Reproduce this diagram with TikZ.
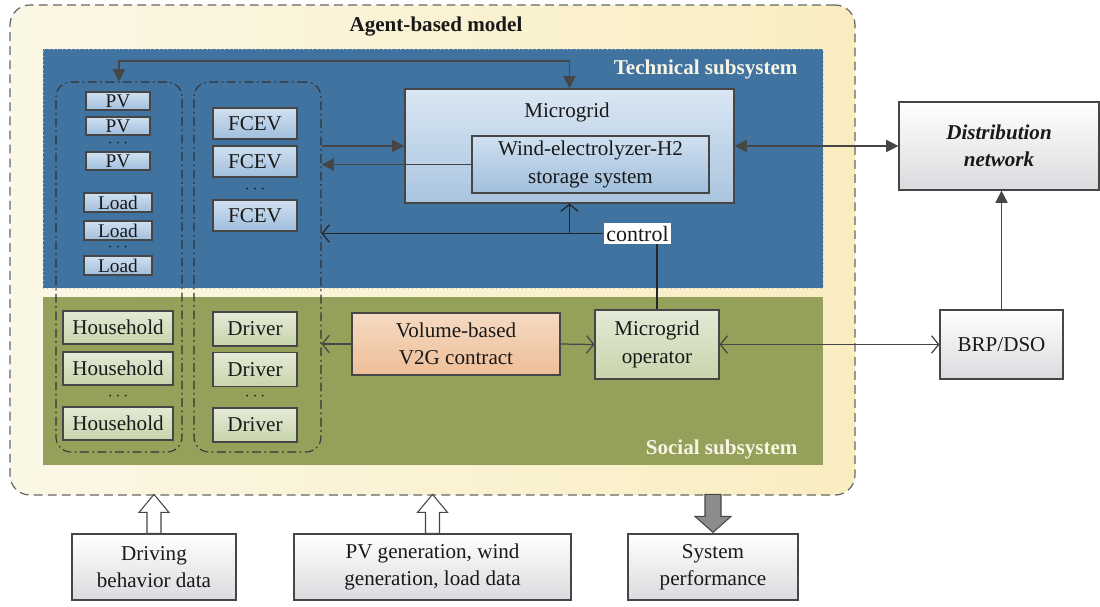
\documentclass[tikz,border=0pt]{standalone}
\usepackage{fontspec}
\setmainfont{Liberation Serif}
\usetikzlibrary{arrows.meta}

\definecolor{techblue}{RGB}{65,115,160}
\definecolor{socgreen}{RGB}{149,161,90}
\definecolor{linegray}{RGB}{70,70,70}
\definecolor{creamL}{RGB}{251,247,230}
\definecolor{creamR}{RGB}{249,237,192}
\definecolor{tboxtop}{RGB}{208,224,240}
\definecolor{tboxbot}{RGB}{160,190,220}
\definecolor{sboxtop}{RGB}{228,234,214}
\definecolor{sboxbot}{RGB}{200,212,172}
\definecolor{contop}{RGB}{245,218,194}
\definecolor{conbot}{RGB}{238,190,152}
\definecolor{greybot}{RGB}{218,219,222}
\definecolor{labelwhite}{RGB}{248,244,228}

\begin{document}
\begin{tikzpicture}[>={Triangle[length=7pt,width=7pt]},line width=0.7pt,
    every node/.style={font=\fontsize{12}{15.5}\selectfont,text=black!90},
    open arrow/.style={-{Straight Barb[length=4pt,width=10pt]}},
    open both/.style={{Straight Barb[length=4pt,width=10pt]}-{Straight Barb[length=4pt,width=10pt]}},
    tech box/.style={draw=linegray,top color=tboxtop,bottom color=tboxbot,inner sep=0pt},
    small box/.style={tech box,font=\fontsize{11}{13}\selectfont},
    soc box/.style={draw=linegray,top color=sboxtop,bottom color=sboxbot,inner sep=0pt},
    grey box/.style={draw=linegray,top color=white,bottom color=greybot,inner sep=0pt,align=center},
    dots/.style={inner sep=0pt,font=\fontsize{10}{10}\selectfont},
    group/.style={draw=black!80,line width=0.6pt,rounded corners=0.3cm,
                  dash pattern=on 5pt off 2pt on 1pt off 2pt},
    sub label/.style={font=\fontsize{12}{14}\selectfont\bfseries,text=labelwhite,anchor=east},
    fat arrow/.style={draw=linegray,line width=0.6pt,line join=miter}]
  \useasboundingbox (0,0) rectangle (22,-12.12);

  % agent-based model frame and the two subsystems
  \node[draw=black!60,dash pattern=on 5pt off 3pt,rounded corners=0.4cm,
        left color=creamL,right color=creamR,
        minimum width=16.9cm,minimum height=9.8cm] (abm) at (8.65,-5.0) {};
  \node[font=\fontsize{12}{14}\selectfont\bfseries] (abmlabel) at (8.72,-0.54) {Agent-based model};
  \node[fill=techblue,draw=black!25,dotted,line width=0.5pt,
        minimum width=15.6cm,minimum height=4.78cm] (tech) at (8.66,-3.37) {};
  \node[sub label] (techlabel) at (16.08,-1.38) {Technical subsystem};
  \node[fill=socgreen,minimum width=15.6cm,minimum height=3.36cm] (soc) at (8.66,-7.62) {};
  \node[sub label] (soclabel) at (16.08,-8.98) {Social subsystem};

  % agent groups
  \node[group,minimum width=2.52cm,minimum height=7.4cm] (grpA) at (2.38,-5.34) {};
  \node[group,minimum width=2.54cm,minimum height=7.4cm] (grpB) at (5.15,-5.34) {};

  \node[small box,minimum width=1.28cm,minimum height=0.36cm] (pv1) at (2.36,-2.02) {PV};
  \node[small box,minimum width=1.28cm,minimum height=0.36cm] (pv2) at (2.36,-2.52) {PV};
  \node[dots] (pvdots) at (2.36,-2.87) {$\cdots$};
  \node[small box,minimum width=1.28cm,minimum height=0.36cm] (pv3) at (2.36,-3.22) {PV};
  \node[small box,minimum width=1.36cm,minimum height=0.38cm] (load1) at (2.36,-4.05) {Load};
  \node[small box,minimum width=1.36cm,minimum height=0.38cm] (load2) at (2.36,-4.61) {Load};
  \node[dots] (loaddots) at (2.36,-4.96) {$\cdots$};
  \node[small box,minimum width=1.36cm,minimum height=0.38cm] (load3) at (2.36,-5.31) {Load};

  \node[tech box,minimum width=1.68cm,minimum height=0.62cm] (fcev1) at (5.1,-2.47) {FCEV};
  \node[tech box,minimum width=1.68cm,minimum height=0.62cm] (fcev2) at (5.1,-3.23) {FCEV};
  \node[dots] (fcevdots) at (5.1,-3.8) {$\cdots$};
  \node[tech box,minimum width=1.68cm,minimum height=0.62cm] (fcev3) at (5.1,-4.31) {FCEV};

  \node[soc box,minimum width=2.2cm,minimum height=0.66cm] (hh1) at (2.36,-6.55) {Household};
  \node[soc box,minimum width=2.2cm,minimum height=0.66cm] (hh2) at (2.36,-7.37) {Household};
  \node[dots] (hhdots) at (2.36,-7.94) {$\cdots$};
  \node[soc box,minimum width=2.2cm,minimum height=0.66cm] (hh3) at (2.36,-8.47) {Household};
  \node[soc box,minimum width=1.68cm,minimum height=0.68cm] (drv1) at (5.1,-6.58) {Driver};
  \node[soc box,minimum width=1.68cm,minimum height=0.68cm] (drv2) at (5.1,-7.39) {Driver};
  \node[dots] (drvdots) at (5.1,-7.94) {$\cdots$};
  \node[soc box,minimum width=1.68cm,minimum height=0.68cm] (drv3) at (5.1,-8.5) {Driver};

  % microgrid
  \node[draw=linegray,top color=tboxtop!80!white,bottom color=tboxbot!90!white,
        minimum width=6.58cm,minimum height=2.28cm] (mg) at (11.39,-2.92) {};
  \node (mglabel) at (11.34,-2.24) {Microgrid};
  \node[tech box,align=center,minimum width=4.74cm,minimum height=1.14cm] (wind) at (11.81,-3.29)
       {Wind-electrolyzer-H2\\storage system};

  % operator side
  \node[draw=linegray,top color=contop,bottom color=conbot,align=center,inner sep=0pt,
        minimum width=4.16cm,minimum height=1.24cm] (con) at (9.12,-6.88) {Volume-based\\V2G contract};
  \node[soc box,align=center,minimum width=2.48cm,minimum height=1.38cm] (op) at (13.14,-6.89)
       {Microgrid\\operator};
  \node[fill=white,inner sep=1.5pt,font=\fontsize{12.5}{15}\selectfont] (ctrl) at (12.75,-4.67) {control};

  % outside the model
  \node[grey box,font=\fontsize{12}{15.5}\selectfont\bfseries\itshape,
        minimum width=4.0cm,minimum height=1.76cm] (dist) at (19.98,-2.92) {Distribution\\network};
  \node[grey box,minimum width=2.46cm,minimum height=1.38cm] (brp) at (20.03,-6.89) {BRP/DSO};
  \node[grey box,minimum width=3.28cm,minimum height=1.32cm] (drvdata) at (3.08,-11.34)
       {Driving\\behavior data};
  \node[grey box,minimum width=5.54cm,minimum height=1.32cm] (pvgen) at (8.65,-11.34)
       {PV generation, wind\\generation, load data};
  \node[grey box,minimum width=3.4cm,minimum height=1.32cm] (perf) at (14.26,-11.34)
       {System\\performance};

  % connectors
  \coordinate (top) at (0,-1.22);
  \draw[linegray,<->] (grpA.north) -- (grpA.north |- top) -- (mg.north |- top) -- (mg.north);
  \draw[linegray,->] (grpB.east |- mg.west) -- (mg.west);
  \draw[linegray,->] (wind.west) -- (wind.west -| grpB.east);
  \draw[linegray,<->] (mg.east) -- (dist.west);
  \draw[linegray,->] (brp.north) -- (brp.north |- dist.south);
  \draw[black!85] (op.north) -- (op.north |- ctrl.south);
  \draw[black!85,open arrow] (ctrl.west) -- (ctrl.west -| grpB.east);
  \draw[black!85,open arrow] (ctrl.west -| mg.south) -- (mg.south);
  \draw[linegray,open arrow] (con.west) -- (con.west -| grpB.east);
  \draw[linegray,open arrow] (con.east) -- (op.west);
  \draw[linegray,open both] (op.east) -- (brp.west);

  % data in, performance out
  \draw[fat arrow,fill=white] (drvdata.north) ++(-0.14,0) -- ++(0,0.42) -- ++(-0.16,0)
       -- ++(0.30,0.36) -- ++(0.30,-0.36) -- ++(-0.16,0) -- ++(0,-0.42) -- cycle;
  \draw[fat arrow,fill=white] (pvgen.north) ++(-0.14,0) -- ++(0,0.42) -- ++(-0.16,0)
       -- ++(0.30,0.36) -- ++(0.30,-0.36) -- ++(-0.16,0) -- ++(0,-0.42) -- cycle;
  \draw[fat arrow,fill=black!45] (perf.north) ++(-0.16,0.78) -- ++(0,-0.44) -- ++(-0.2,0)
       -- ++(0.36,-0.32) -- ++(0.36,0.32) -- ++(-0.2,0) -- ++(0,0.44) -- cycle;
\end{tikzpicture}
\end{document}
